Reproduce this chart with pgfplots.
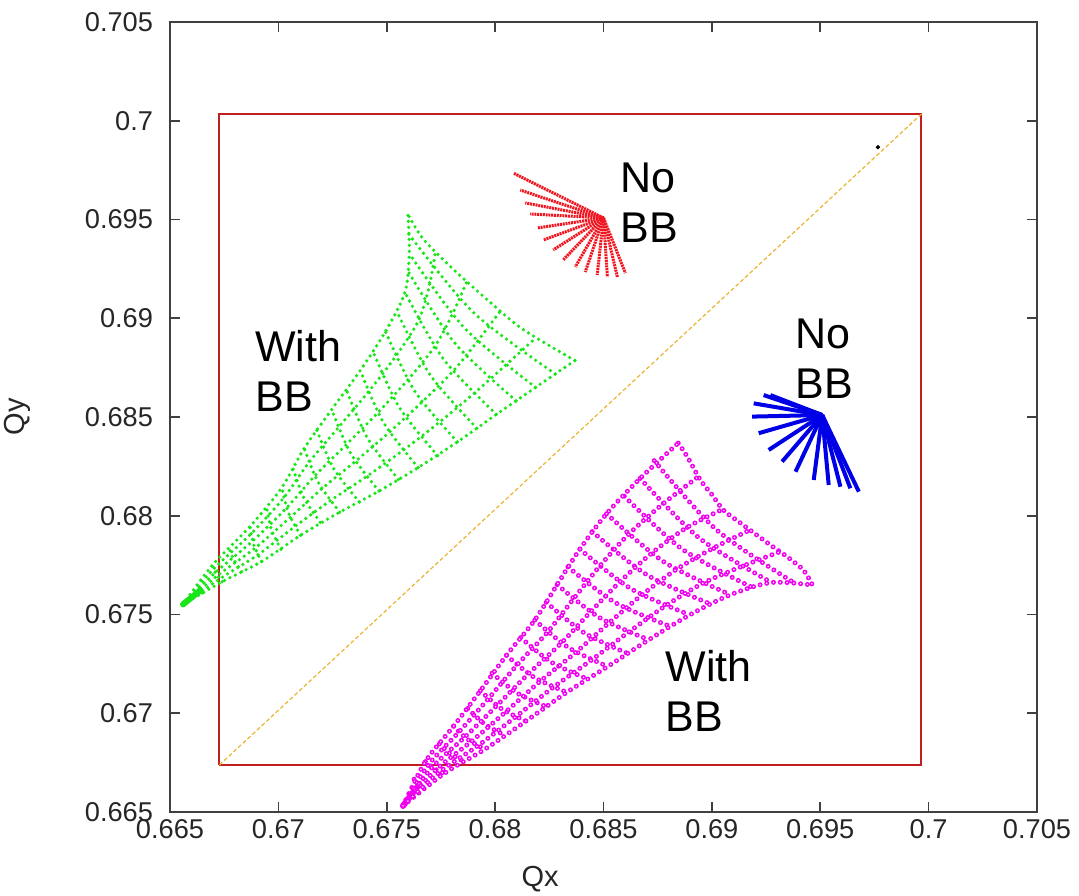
\documentclass[border=0pt]{standalone}
\usepackage{pgfplots}
\pgfplotsset{compat=1.18}
\usepackage{fontspec}
\setmainfont{Liberation Sans}
\definecolor{gcol}{RGB}{25,230,25}
\definecolor{mcol}{RGB}{240,0,240}
\definecolor{rcol}{RGB}{240,20,30}
\definecolor{bcol}{RGB}{0,0,230}
\definecolor{boxcol}{RGB}{195,30,30}
\definecolor{diagcol}{RGB}{235,180,50}
\pgfplotsset{
 gdot/.style={draw=gcol, line width=1.8bp, line cap=round, dash pattern=on 0pt off 3bp, smooth, mark=none},
 mdot/.style={draw=mcol, line width=2.5bp, line cap=round, dash pattern=on 0pt off 3.4bp, smooth, mark=none,
   postaction={draw=white, line width=0.85bp, line cap=round, dash pattern=on 0pt off 3.4bp}},
 rfan/.style={draw=rcol, line width=1.5bp, dash pattern=on 1bp off 0.4bp, mark=none},
 bfan/.style={draw=bcol, line width=2bp, mark=none},
}
\newcommand{\tickfont}{\fontsize{13.6bp}{16bp}\selectfont}
\newcommand{\bigfont}{\fontsize{21.5bp}{25bp}\selectfont}
\begin{document}
\begin{tikzpicture}
\useasboundingbox (-85bp,-42bp) rectangle (454.5bp,406bp);
\begin{axis}[
 scale only axis, width=433.5bp, height=395bp,
 xmin=0.665, xmax=0.705, ymin=0.665, ymax=0.705,
 xtick={0.665,0.67,0.675,0.68,0.685,0.69,0.695,0.7,0.705},
 xticklabels={0.665,0.67,0.675,0.68,0.685,0.69,0.695,0.7,0.705},
 ytick={0.665,0.67,0.675,0.68,0.685,0.69,0.695,0.7,0.705},
 yticklabels={0.665,0.67,0.675,0.68,0.685,0.69,0.695,0.7,0.705},
 tick align=inside, major tick length=5bp,
 axis line style={draw=black!75, line width=1bp},
 every tick/.style={draw=black!75, line width=0.8bp},
 ticklabel style={font=\tickfont, text=black!85},
 yticklabel style={xshift=-5bp},
 xlabel={Qx}, ylabel={Qy},
 every axis x label/.style={at={(axis description cs:0.427,-0.0684)}, anchor=north, inner sep=0pt, font=\fontsize{14.5bp}{17bp}\selectfont, text=black!85},
 every axis y label/.style={at={(axis description cs:-0.16,0.5)}, rotate=90, anchor=south, inner sep=0pt, font=\fontsize{14.5bp}{17bp}\selectfont, text=black!85},
]
% red frame and diagonal
\addplot[draw=boxcol, line width=1bp, mark=none] coordinates {(0.66728,0.66738)(0.69967,0.66738)(0.69967,0.70034)(0.66728,0.70034)(0.66728,0.66738)};
\addplot[draw=diagcol, line width=0.6bp, dash pattern=on 2bp off 1.2bp, mark=none] coordinates {(0.66728,0.66738)(0.69967,0.70034)};
\addplot[only marks, mark=*, mark size=0.9bp, black] coordinates {(0.69766,0.69866)};

% green footprint (With BB): lines of constant amplitude
\addplot[draw=gcol, line width=3bp, line cap=round, mark=none] coordinates {(0.66560,0.67551)(0.66640,0.67622)};
\addplot[gdot] coordinates {(0.66650,0.67609)(0.66637,0.67628)(0.66627,0.67650)};
\addplot[gdot] coordinates {(0.66741,0.67666)(0.66713,0.67704)(0.66695,0.67749)};
\addplot[gdot] coordinates {(0.66831,0.67717)(0.66794,0.67778)(0.66770,0.67847)};
\addplot[gdot] coordinates {(0.66922,0.67768)(0.66886,0.67854)(0.66869,0.67946)};
\addplot[gdot] coordinates {(0.67012,0.67830)(0.66967,0.67933)(0.66946,0.68045)};
\addplot[gdot] coordinates {(0.67102,0.67901)(0.67046,0.68016)(0.67016,0.68143)};
\addplot[gdot] coordinates {(0.67193,0.67967)(0.67115,0.68096)(0.67067,0.68242)};
\addplot[gdot] coordinates {(0.67283,0.68018)(0.67184,0.68169)(0.67119,0.68341)};
\addplot[gdot] coordinates {(0.67374,0.68069)(0.67254,0.68241)(0.67175,0.68440)};
\addplot[gdot] coordinates {(0.67464,0.68125)(0.67333,0.68317)(0.67246,0.68538)};
\addplot[gdot] coordinates {(0.67554,0.68184)(0.67410,0.68395)(0.67314,0.68637)};
\addplot[gdot] coordinates {(0.67645,0.68244)(0.67485,0.68472)(0.67378,0.68736)};
\addplot[gdot] coordinates {(0.67735,0.68304)(0.67557,0.68550)(0.67436,0.68834)};
\addplot[gdot] coordinates {(0.67826,0.68374)(0.67629,0.68631)(0.67494,0.68933)};
\addplot[gdot] coordinates {(0.67916,0.68443)(0.67700,0.68713)(0.67548,0.69032)};
\addplot[gdot] coordinates {(0.68006,0.68513)(0.67762,0.68793)(0.67584,0.69131)};
\addplot[gdot] coordinates {(0.68097,0.68582)(0.67815,0.68873)(0.67603,0.69229)};
\addplot[gdot] coordinates {(0.68187,0.68650)(0.67859,0.68950)(0.67604,0.69328)};
\addplot[gdot] coordinates {(0.68278,0.68718)(0.67901,0.69028)(0.67601,0.69427)};
\addplot[gdot] coordinates {(0.68368,0.68786)(0.68128,0.68944)(0.67976,0.69082)(0.67805,0.69250)(0.67667,0.69403)(0.67598,0.69526)};
% green: edges and radial lines
\addplot[gdot] coordinates {(0.66560,0.67551)(0.66741,0.67666)(0.66922,0.67768)(0.67102,0.67901)(0.67283,0.68018)(0.67464,0.68125)(0.67645,0.68244)(0.67826,0.68374)(0.68006,0.68513)(0.68187,0.68650)(0.68368,0.68786)};
\addplot[gdot] coordinates {(0.66560,0.67551)(0.66695,0.67749)(0.66869,0.67946)(0.67016,0.68143)(0.67119,0.68341)(0.67246,0.68538)(0.67378,0.68736)(0.67494,0.68933)(0.67584,0.69131)(0.67604,0.69328)(0.67598,0.69526)};
\addplot[gdot] coordinates {(0.66560,0.67551)(0.66701,0.67730)(0.66874,0.67909)(0.67025,0.68091)(0.67141,0.68270)(0.67276,0.68446)(0.67414,0.68626)(0.67541,0.68807)(0.67647,0.68989)(0.67697,0.69167)(0.67726,0.69345)};
\addplot[gdot] coordinates {(0.66560,0.67551)(0.66709,0.67712)(0.66881,0.67872)(0.67038,0.68040)(0.67168,0.68202)(0.67312,0.68359)(0.67459,0.68522)(0.67597,0.68688)(0.67721,0.68856)(0.67802,0.69019)(0.67868,0.69181)};
\addplot[gdot] coordinates {(0.66560,0.67551)(0.66718,0.67696)(0.66892,0.67836)(0.67055,0.67992)(0.67201,0.68137)(0.67356,0.68276)(0.67513,0.68424)(0.67663,0.68576)(0.67806,0.68732)(0.67919,0.68884)(0.68022,0.69033)};
\addplot[gdot] coordinates {(0.66560,0.67551)(0.66729,0.67680)(0.66905,0.67802)(0.67077,0.67946)(0.67239,0.68076)(0.67406,0.68198)(0.67575,0.68331)(0.67740,0.68471)(0.67901,0.68618)(0.68047,0.68761)(0.68188,0.68901)};

% magenta footprint (With BB): lines of constant amplitude
\addplot[draw=mcol, line width=3bp, line cap=round, mark=none] coordinates {(0.67575,0.66531)(0.67650,0.66640)};
\addplot[mdot] coordinates {(0.67626,0.66666)(0.67646,0.66648)(0.67670,0.66636)};
\addplot[mdot] coordinates {(0.67678,0.66755)(0.67718,0.66720)(0.67765,0.66695)};
\addplot[mdot] coordinates {(0.67743,0.66845)(0.67796,0.66792)(0.67859,0.66755)};
\addplot[mdot] coordinates {(0.67808,0.66934)(0.67874,0.66867)(0.67953,0.66818)};
\addplot[mdot] coordinates {(0.67874,0.67024)(0.67953,0.66944)(0.68048,0.66887)};
\addplot[mdot] coordinates {(0.67932,0.67114)(0.68029,0.67023)(0.68142,0.66960)};
\addplot[mdot] coordinates {(0.67986,0.67203)(0.68102,0.67102)(0.68237,0.67033)};
\addplot[mdot] coordinates {(0.68052,0.67293)(0.68181,0.67181)(0.68331,0.67106)};
\addplot[mdot] coordinates {(0.68118,0.67383)(0.68260,0.67258)(0.68425,0.67174)};
\addplot[mdot] coordinates {(0.68183,0.67472)(0.68339,0.67332)(0.68520,0.67237)};
\addplot[mdot] coordinates {(0.68236,0.67562)(0.68411,0.67407)(0.68614,0.67302)};
\addplot[mdot] coordinates {(0.68286,0.67651)(0.68482,0.67484)(0.68709,0.67372)};
\addplot[mdot] coordinates {(0.68336,0.67741)(0.68553,0.67561)(0.68803,0.67442)};
\addplot[mdot] coordinates {(0.68391,0.67831)(0.68626,0.67631)(0.68898,0.67498)};
\addplot[mdot] coordinates {(0.68448,0.67920)(0.68700,0.67701)(0.68992,0.67554)};
\addplot[mdot] coordinates {(0.68514,0.68010)(0.68778,0.67767)(0.69086,0.67600)};
\addplot[mdot] coordinates {(0.68596,0.68099)(0.68863,0.67831)(0.69181,0.67640)};
\addplot[mdot] coordinates {(0.68669,0.68189)(0.68943,0.67886)(0.69275,0.67662)};
\addplot[mdot] coordinates {(0.68734,0.68279)(0.69019,0.67931)(0.69370,0.67667)};
\addplot[mdot] coordinates {(0.68845,0.68368)(0.68887,0.68298)(0.68947,0.68181)(0.69002,0.68105)(0.69053,0.68029)(0.69132,0.67963)(0.69270,0.67852)(0.69349,0.67791)(0.69422,0.67725)(0.69464,0.67649)};
% magenta: edges and radial lines
\addplot[mdot] coordinates {(0.67575,0.66531)(0.67678,0.66755)(0.67808,0.66934)(0.67932,0.67114)(0.68052,0.67293)(0.68183,0.67472)(0.68286,0.67651)(0.68391,0.67831)(0.68514,0.68010)(0.68669,0.68189)(0.68845,0.68368)};
\addplot[mdot] coordinates {(0.67575,0.66531)(0.67765,0.66695)(0.67953,0.66818)(0.68142,0.66960)(0.68331,0.67106)(0.68520,0.67237)(0.68709,0.67372)(0.68898,0.67498)(0.69086,0.67600)(0.69275,0.67662)(0.69464,0.67649)};
\addplot[mdot] coordinates {(0.67575,0.66531)(0.67693,0.66740)(0.67833,0.66905)(0.67969,0.67074)(0.68101,0.67244)(0.68242,0.67411)(0.68361,0.67578)(0.68481,0.67743)(0.68614,0.67904)(0.68772,0.68058)(0.68940,0.68200)};
\addplot[mdot] coordinates {(0.67575,0.66531)(0.67709,0.66726)(0.67860,0.66879)(0.68008,0.67039)(0.68154,0.67200)(0.68306,0.67356)(0.68440,0.67513)(0.68576,0.67666)(0.68722,0.67810)(0.68884,0.67940)(0.69050,0.68033)};
\addplot[mdot] coordinates {(0.67575,0.66531)(0.67727,0.66714)(0.67889,0.66856)(0.68050,0.67008)(0.68209,0.67163)(0.68373,0.67309)(0.68525,0.67457)(0.68677,0.67599)(0.68836,0.67728)(0.69005,0.67835)(0.69175,0.67928)};
\addplot[mdot] coordinates {(0.67575,0.66531)(0.67745,0.66704)(0.67920,0.66835)(0.68095,0.66982)(0.68269,0.67132)(0.68445,0.67270)(0.68615,0.67410)(0.68785,0.67543)(0.68958,0.67658)(0.69135,0.67742)(0.69315,0.67818)};

% red fan (No BB)
\addplot[rfan] coordinates {(0.68500,0.69508)(0.68084,0.69735)};
\addplot[rfan] coordinates {(0.68500,0.69508)(0.68116,0.69649)};
\addplot[rfan] coordinates {(0.68500,0.69508)(0.68139,0.69584)};
\addplot[rfan] coordinates {(0.68500,0.69508)(0.68162,0.69528)};
\addplot[rfan] coordinates {(0.68500,0.69508)(0.68194,0.69457)};
\addplot[rfan] coordinates {(0.68500,0.69508)(0.68222,0.69396)};
\addplot[rfan] coordinates {(0.68500,0.69508)(0.68268,0.69346)};
\addplot[rfan] coordinates {(0.68500,0.69508)(0.68314,0.69295)};
\addplot[rfan] coordinates {(0.68500,0.69508)(0.68370,0.69260)};
\addplot[rfan] coordinates {(0.68500,0.69508)(0.68416,0.69234)};
\addplot[rfan] coordinates {(0.68500,0.69508)(0.68471,0.69219)};
\addplot[rfan] coordinates {(0.68500,0.69508)(0.68518,0.69209)};
\addplot[rfan] coordinates {(0.68500,0.69508)(0.68564,0.69209)};
\addplot[rfan] coordinates {(0.68500,0.69508)(0.68601,0.69229)};

% blue fan (No BB)
\addplot[bfan] coordinates {(0.69509,0.68510)(0.69239,0.68611)};
\addplot[bfan] coordinates {(0.69509,0.68510)(0.69270,0.68611)};
\addplot[bfan] coordinates {(0.69509,0.68510)(0.69193,0.68569)};
\addplot[bfan] coordinates {(0.69509,0.68510)(0.69186,0.68502)};
\addplot[bfan] coordinates {(0.69509,0.68510)(0.69216,0.68418)};
\addplot[bfan] coordinates {(0.69509,0.68510)(0.69262,0.68333)};
\addplot[bfan] coordinates {(0.69509,0.68510)(0.69324,0.68274)};
\addplot[bfan] coordinates {(0.69509,0.68510)(0.69386,0.68223)};
\addplot[bfan] coordinates {(0.69509,0.68510)(0.69470,0.68181)};
\addplot[bfan] coordinates {(0.69509,0.68510)(0.69539,0.68156)};
\addplot[bfan] coordinates {(0.69509,0.68510)(0.69593,0.68147)};
\addplot[bfan] coordinates {(0.69509,0.68510)(0.69639,0.68139)};
\addplot[bfan] coordinates {(0.69509,0.68510)(0.69678,0.68122)};

% labels
\node[anchor=north west, inner sep=0pt, align=left, font=\bigfont] at (axis cs:0.68578,0.69786) {No\\BB};
\node[anchor=north west, inner sep=0pt, align=left, font=\bigfont] at (axis cs:0.66892,0.68941) {With\\BB};
\node[anchor=north west, inner sep=0pt, align=left, font=\bigfont] at (axis cs:0.69386,0.69001) {No\\BB};
\node[anchor=north west, inner sep=0pt, align=left, font=\bigfont] at (axis cs:0.68785,0.67320) {With\\BB};
\end{axis}
\end{tikzpicture}
\end{document}
